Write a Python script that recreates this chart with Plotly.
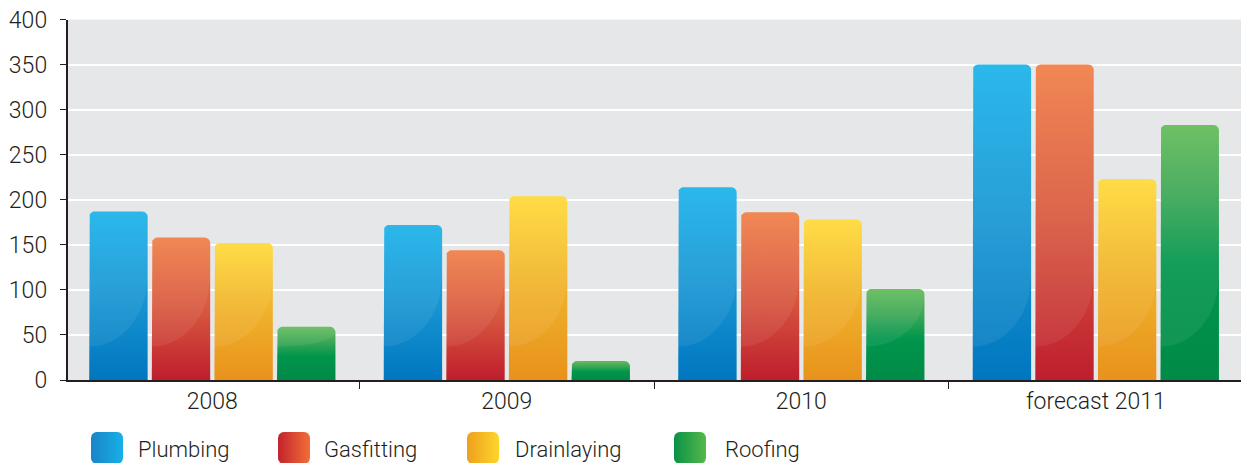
import numpy as np
import plotly.graph_objects as go

# ---- data -------------------------------------------------------------
years = ["2008", "2009", "2010", "forecast 2011"]
trades = ["Plumbing", "Gasfitting", "Drainlaying", "Roofing"]
plumbing = [187, 172, 214, 350]
gasfitting = [158, 144, 186, 350]
drainlaying = [152, 204, 178, 223]
roofing = [59, 21, 101, 283]
y_ticks = [0, 50, 100, 150, 200, 250, 300, 350, 400]

series = [plumbing, gasfitting, drainlaying, roofing]

# ---- styling ----------------------------------------------------------
W, H = 1241, 463
PLOT_L, PLOT_R, PLOT_T, PLOT_B = 67.5, 1241, 19.5, 380
X_RANGE = [-0.4917, 3.493]
INK = "#231f20"
FONT = "Roboto"
WEIGHT = 300

# vertical gradients (bottom -> top) for the bars
bar_scales = [
    [[0, "#0076bf"], [0.5, "#1896d3"], [1, "#1bb3ea"]],
    [[0, "#be1e2d"], [0.5, "#d8583f"], [1, "#f07f47"]],
    [[0, "#e8921c"], [0.5, "#f0b22a"], [1, "#ffda38"]],
    [[0, "#008a46"], [0.45, "#00964c"], [0.72, "#3ca757"], [1, "#64bc5a"]],
]
# horizontal gradients (left -> right) for the legend keys
key_scales = [
    [[0, "#1a84c6"], [1, "#17b0e8"]],
    [[0, "#c2232d"], [1, "#f26e36"]],
    [[0, "#eda01f"], [1, "#fed52b"]],
    [[0, "#0a9147"], [1, "#55b94a"]],
]

XPX = (PLOT_R - PLOT_L) / (X_RANGE[1] - X_RANGE[0])   # pixels per category
YPX = (PLOT_B - PLOT_T) / 400.0                       # pixels per value unit
PITCH = 62.6 / XPX                        # bar slot width (category units)
BAR_W = 58.4 / XPX                        # bar width (category units)
RX, RY = 5.5 / XPX, 5.5 / YPX             # rounded corner radii


def arc(cx, cy, rx, ry, a0, a1, n=8):
    t = np.linspace(a0, a1, n)
    return list(cx + rx * np.cos(t)), list(cy + ry * np.sin(t))


def top_outline(x0, x1, h, ry):
    """Left edge upwards, rounded top, right edge downwards (no bottom)."""
    xs, ys = [], []
    ax, ay = arc(x0 + RX, h - ry, RX, ry, np.pi, np.pi / 2)
    xs += ax; ys += ay
    ax, ay = arc(x1 - RX, h - ry, RX, ry, np.pi / 2, 0)
    xs += ax; ys += ay
    return xs, ys


fig = go.Figure()

for s, vals in enumerate(series):
    for c, v in enumerate(vals):
        xc = c + (s - 1.5) * PITCH
        x0, x1 = xc - BAR_W / 2, xc + BAR_W / 2
        ry = min(RY, v / 2)
        tx, ty = top_outline(x0, x1, v, ry)
        xs = [x0] + tx + [x1, x0]
        ys = [0] + ty + [0, 0]
        fig.add_trace(go.Scatter(
            x=xs, y=ys, mode="lines", line=dict(width=0),
            fill="toself",
            fillgradient=dict(type="vertical", colorscale=bar_scales[s],
                              start=0, stop=v),
            hoverinfo="text", hoveron="fills",
            text=f"{trades[s]} {years[c]}: {v}",
            showlegend=False,
        ))
        # glossy highlight above a curved sweep
        g0 = 37.0
        if v > g0 + ry:
            g1 = min(115.0, v - ry)
            t = np.linspace(1, 0, 30)
            cx = list(x0 + t * (x1 - x0))
            cy = list(g0 + (g1 - g0) * (1 - np.sqrt(1 - t ** 2)))
            gx = [x0] + tx + [x1] + cx
            gy = [g0] + ty + [g1] + cy
            fig.add_trace(go.Scatter(
                x=gx, y=gy, mode="lines", line=dict(width=0),
                fill="toself", fillcolor="rgba(255,255,255,0.07)",
                hoverinfo="skip", showlegend=False,
            ))

# ---- legend keys on a pixel-space overlay --------------------------------
key_x = [91, 278, 467, 674]
text_x = [136, 322, 513, 723]
KEY_TOP, KEY_SIZE, KR = 432, 32, 6
for s, name in enumerate(trades):
    x0, x1 = key_x[s], key_x[s] + KEY_SIZE
    y0, y1 = KEY_TOP, KEY_TOP + KEY_SIZE
    xs, ys = [], []
    for (cx, cy, a0, a1) in [(x0 + KR, y0 + KR, np.pi, 1.5 * np.pi),
                             (x1 - KR, y0 + KR, 1.5 * np.pi, 2 * np.pi),
                             (x1 - KR, y1 - KR, 0, 0.5 * np.pi),
                             (x0 + KR, y1 - KR, 0.5 * np.pi, np.pi)]:
        ax, ay = arc(cx, cy, KR, KR, a0, a1)
        xs += ax; ys += ay
    xs.append(xs[0]); ys.append(ys[0])
    fig.add_trace(go.Scatter(
        x=xs, y=ys, xaxis="x2", yaxis="y2", mode="lines", line=dict(width=0),
        fill="toself",
        fillgradient=dict(type="horizontal", colorscale=key_scales[s],
                          start=x0, stop=x1),
        hoverinfo="skip", showlegend=False,
    ))
    fig.add_annotation(
        x=text_x[s] / W, y=1 - 449 / H, xref="paper", yref="paper",
        text=name, showarrow=False, xanchor="left", yanchor="middle",
        font=dict(family=FONT, size=22, color=INK, weight=WEIGHT),
    )

# plot background
fig.add_shape(type="rect", xref="x domain", yref="y domain",
              x0=0, x1=1, y0=0, y1=1, layer="below",
              fillcolor="#e6e7e8", line=dict(width=0))

tick_font = dict(family=FONT, size=23, color=INK, weight=WEIGHT)

fig.update_layout(
    template="none",
    width=W, height=H,
    margin=dict(l=0, r=0, t=0, b=0),
    paper_bgcolor="white",
    plot_bgcolor="rgba(0,0,0,0)",
    showlegend=False,
    font=dict(family=FONT, size=23, color=INK),
    xaxis=dict(
        domain=[PLOT_L / W, PLOT_R / W],
        range=X_RANGE,
        tickmode="array", tickvals=list(range(len(years))), ticktext=years,
        ticks="", showgrid=False, zeroline=False,
        showline=True, linecolor=INK, linewidth=1.5,
        minor=dict(tickmode="array",
                   tickvals=[i - 0.5 for i in range(len(years))],
                   ticks="outside", ticklen=7, tickwidth=1.2,
                   tickcolor=INK, showgrid=False),
        ticklabelstandoff=0,
        tickfont=tick_font,
        fixedrange=True, automargin=False,
    ),
    yaxis=dict(
        domain=[1 - PLOT_B / H, 1 - PLOT_T / H],
        range=[0, 400],
        tickmode="array", tickvals=y_ticks,
        ticks="outside", ticklen=6, tickwidth=1.2, tickcolor=INK,
        showgrid=True, gridcolor="white", gridwidth=2,
        zeroline=False, showline=True, linecolor=INK, linewidth=1.5,
        ticklabelstandoff=8,
        tickfont=tick_font,
        fixedrange=True, automargin=False,
    ),
    xaxis2=dict(domain=[0, 1], range=[0, W], anchor="y2", visible=False,
                fixedrange=True),
    yaxis2=dict(domain=[0, 1], range=[H, 0], anchor="x2", visible=False,
                fixedrange=True),
)

fig.write_html("out.html")
